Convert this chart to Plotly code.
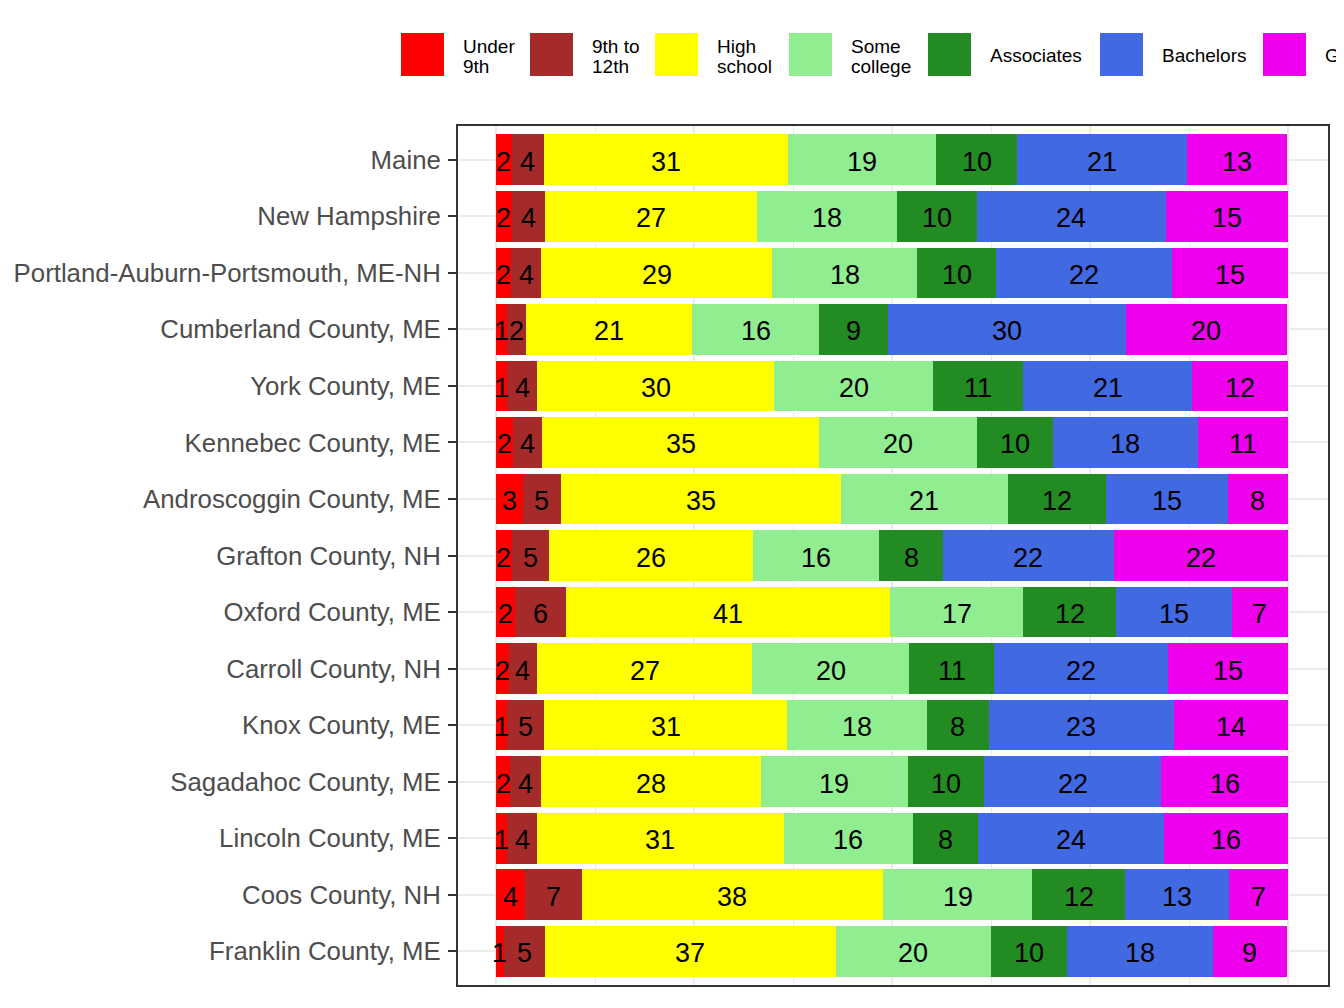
import numpy as np
import plotly.graph_objects as go

# ---------------- data (percent of population 25+, by educational attainment) -------------
categories = [
    "Maine", "New Hampshire", "Portland-Auburn-Portsmouth, ME-NH",
    "Cumberland County, ME", "York County, ME", "Kennebec County, ME",
    "Androscoggin County, ME", "Grafton County, NH", "Oxford County, ME",
    "Carroll County, NH", "Knox County, ME", "Sagadahoc County, ME",
    "Lincoln County, ME", "Coos County, NH", "Franklin County, ME",
]
under_9th    = [2.0, 2.0, 1.9, 1.4, 1.4, 2.2, 3.4, 2.0, 2.4, 1.6, 1.4, 1.8, 1.4, 3.7, 1.0]
grade_9_12   = [4.0, 4.2, 3.8, 2.4, 3.8, 3.6, 4.8, 4.7, 6.4, 3.6, 4.7, 3.9, 3.8, 7.1, 5.2]
high_school  = [30.9, 26.8, 29.2, 21.0, 29.9, 35.0, 35.4, 25.8, 40.9, 27.1, 30.7, 27.7, 31.1, 38.1, 36.7]
some_college = [18.7, 17.6, 18.3, 16.0, 20.1, 19.9, 21.0, 15.9, 16.9, 19.9, 17.6, 18.6, 16.4, 18.8, 19.6]
associates   = [10.2, 10.1, 9.9, 8.7, 11.4, 9.6, 12.4, 8.0, 11.7, 10.7, 7.8, 9.6, 8.1, 11.7, 9.6]
bachelors    = [21.4, 23.9, 22.3, 30.0, 21.3, 18.3, 15.4, 21.6, 14.6, 21.9, 23.4, 22.4, 23.6, 13.2, 18.4]
graduate     = [12.7, 15.4, 14.6, 20.4, 12.1, 11.4, 7.6, 22.0, 7.1, 15.2, 14.4, 16.0, 15.6, 7.4, 9.4]

level_names  = ["Under 9th", "9th to 12th", "High school", "Some college",
                "Associates", "Bachelors", "Graduate"]
legend_lines = [["Under", "9th"], ["9th to", "12th"], ["High", "school"],
                ["Some", "college"], ["Associates"], ["Bachelors"], ["Graduate"]]
level_colors = ["#FF0000", "#A52A2A", "#FFFF00", "#90EE90", "#228B22", "#4169E1", "#EE00EE"]

series = [under_9th, grade_9_12, high_school, some_college, associates, bachelors, graduate]

# ---------------- figure geometry ----------------
OFF = 8                      # page body margin in the browser
W, H = 1344 - OFF, 1008 - OFF
PANEL_L, PANEL_R, PANEL_T, PANEL_B = 458, 1328, 126, 984.8   # in screenshot pixels
M_L = PANEL_L - OFF
M_T = PANEL_T - OFF
M_R = (1344 - OFF) - (PANEL_R - OFF)
M_B = H - (PANEL_B - OFF)
PW, PH = W - M_L - M_R, H - M_T - M_B
FONT = "Liberation Sans, Arial, sans-serif"


def paper_x(px):
    return (px - PANEL_L) / PW


def paper_y(py):
    return (PANEL_B - py) / PH


fig = go.Figure()

cum = np.zeros(len(categories))
for name, vals, col in zip(level_names, series, level_colors):
    v = np.array(vals, dtype=float)
    fig.add_trace(go.Bar(
        x=v, y=categories, orientation="h", name=name,
        marker=dict(color=col, line=dict(width=0)),
        showlegend=False, hoverinfo="x+y+name",
    ))
    mids = cum + v / 2
    for xm, cat, val in zip(mids, categories, v):
        fig.add_annotation(x=xm, y=cat, xref="x", yref="y",
                           text=str(int(np.floor(val + 0.5))), showarrow=False,
                           xanchor="center", yanchor="middle", yshift=-2,
                           font=dict(family=FONT, size=27, color="#000000"))
    cum = cum + v

# ---------------- manual legend (top, clipped at right like the reference) ----------------
sq_left = [401, 530, 655, 789, 928, 1100, 1263]
sq_size = 43
sq_top = 33
for i, (lines, col) in enumerate(zip(legend_lines, level_colors)):
    x0 = sq_left[i]
    fig.add_shape(type="rect", xref="paper", yref="paper",
                  x0=paper_x(x0), x1=paper_x(x0 + sq_size),
                  y0=paper_y(sq_top + sq_size), y1=paper_y(sq_top),
                  fillcolor=col, line=dict(width=0), layer="above")
    tx = x0 + sq_size + 16.5
    if len(lines) == 1:
        ys = [56]
    else:
        ys = [46.5, 66.5]
    for ln, yy in zip(lines, ys):
        fig.add_annotation(xref="paper", yref="paper", x=paper_x(tx), y=paper_y(yy),
                           text=ln, showarrow=False, xanchor="left", yanchor="middle",
                           font=dict(family=FONT, size=19, color="#000000"))

fig.update_layout(
    width=W, height=H, template="none",
    margin=dict(l=M_L, r=M_R, t=M_T, b=M_B, pad=0),
    barmode="stack", bargap=0.1,
    plot_bgcolor="#FFFFFF", paper_bgcolor="#FFFFFF",
    showlegend=False,
    font=dict(family=FONT),
)
fig.update_xaxes(
    range=[-4.8, 105.05], showticklabels=False, ticks="", zeroline=False,
    tick0=0, dtick=25, showgrid=True, gridcolor="#EBEBEB", gridwidth=2,
    minor=dict(tick0=0, dtick=12.5, showgrid=True, gridcolor="#EBEBEB", gridwidth=1),
    showline=True, mirror=True, linecolor="#333333", linewidth=2, automargin=False,
)
fig.update_yaxes(
    type="category", categoryorder="array", categoryarray=categories,
    range=[len(categories) - 0.4, -0.6],
    showgrid=True, gridcolor="#EBEBEB", gridwidth=2, zeroline=False,
    ticks="outside", ticklen=8, tickwidth=2, tickcolor="#333333",
    tickfont=dict(family=FONT, size=25.8, color="#4D4D4D"),
    ticklabelstandoff=2,
    showline=True, mirror=True, linecolor="#333333", linewidth=2, automargin=False,
)

fig.write_html("out.html")
